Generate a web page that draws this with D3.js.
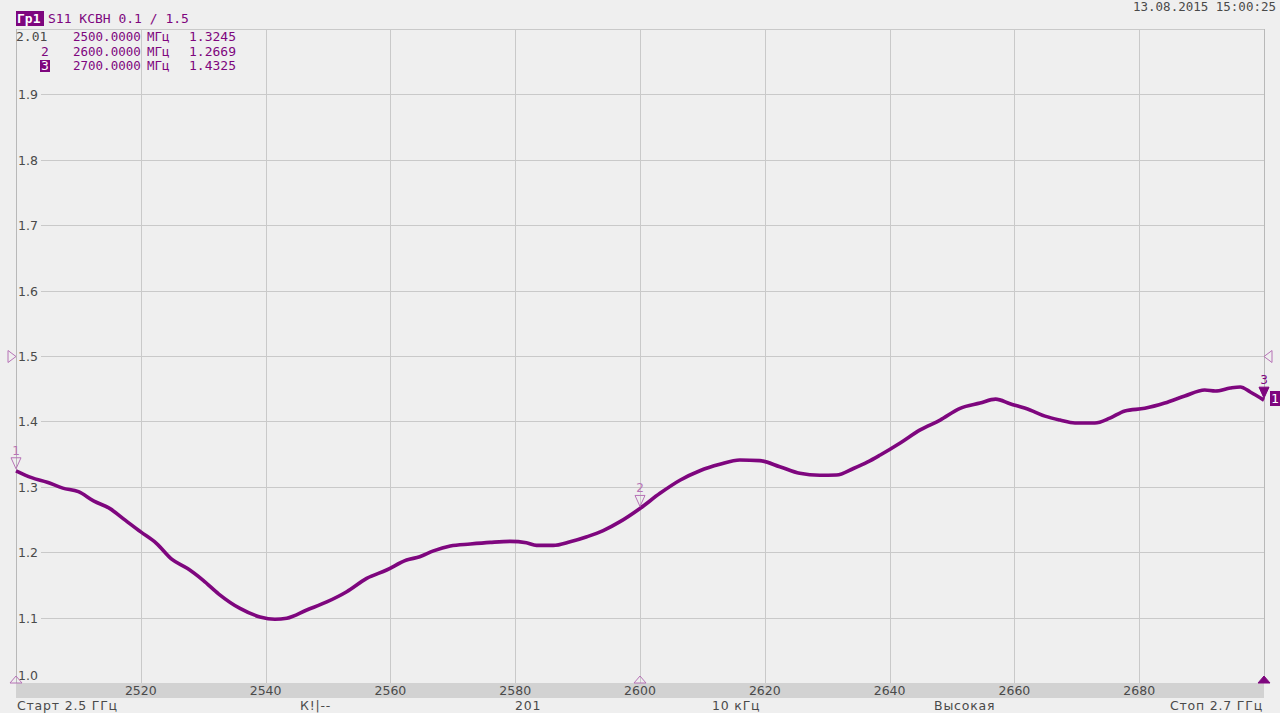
<!DOCTYPE html>
<html><head><meta charset="utf-8">
<script src="https://cdn.jsdelivr.net/npm/d3@7"></script>
<style>html,body{margin:0;padding:0;background:#efefef;}svg{display:block;}</style>
</head><body>
<svg id="c" width="1280" height="713"></svg>
<script>
// ---- data ----
const freqMHz = [2500,2502.5,2505,2507.5,2510,2512.5,2515,2517.5,2520,2522.5,2525,2527.5,2530,2532.5,2535.9,2539.1,2541.5,2543.4,2546.6,2549.8,2553,2556.2,2559.4,2562.6,2564.7,2566.9,2569.6,2572.8,2576,2579.2,2581.8,2583.4,2586.1,2588.8,2591.5,2594.1,2596.8,2600,2603.2,2606.4,2609.6,2612.8,2616,2619.2,2622.4,2625.6,2628.8,2631.5,2634.2,2636.5,2638.5,2641.7,2644.9,2648.1,2651.3,2654.5,2657,2659.3,2662.5,2664.9,2667.3,2669.7,2672.9,2675.3,2677.7,2680.9,2684.1,2687.3,2690.5,2692.2,2694.6,2696.2,2697.8,2700];
const vswr = [1.3245,1.314,1.307,1.298,1.2925,1.278,1.267,1.249,1.231,1.2136,1.189,1.175,1.157,1.136,1.114,1.101,1.0974,1.099,1.1116,1.124,1.1396,1.160,1.1728,1.188,1.193,1.202,1.2095,1.2125,1.215,1.2166,1.2145,1.2105,1.2105,1.216,1.2237,1.233,1.2467,1.2669,1.290,1.310,1.3246,1.3344,1.341,1.340,1.3307,1.3206,1.3176,1.318,1.328,1.338,1.3486,1.367,1.387,1.402,1.420,1.428,1.434,1.427,1.4174,1.408,1.402,1.3976,1.3976,1.405,1.416,1.420,1.428,1.4388,1.448,1.4465,1.451,1.4526,1.445,1.4325];
const xTicks = [2520,2540,2560,2580,2600,2620,2640,2660,2680];
const yTicks = [1.1,1.2,1.3,1.4,1.5,1.6,1.7,1.8,1.9];
const markerIds = ["1","2","3"];
const markerFreq = [2500,2600,2700];
const markerVal = [1.3245,1.2669,1.4325];
const markerFreqText = ["2500.0000","2600.0000","2700.0000"];
const markerValText = ["1.3245","1.2669","1.4325"];
const headerTitle = "S11 КСВН 0.1 / 1.5";
const refLevel = 1.5;
const statusTexts = ["Старт 2.5 ГГц","К!|--","201","10 кГц","Высокая","Стоп 2.7 ГГц"];
const dateText = "13.08.2015 15:00:25";

// ---- layout ----
const svg = d3.select("#c");
const X0=16, X1=1264, YT=29, YB=683;
const x = d3.scaleLinear().domain([2500,2700]).range([X0,X1]);
const y = d3.scaleLinear().domain([1.0,2.0]).range([YB,YT]);
const purple="#7e067e", pale="#b673b6", gridC="#c9c9c9", txt="#4a4a4a";
const sans="DejaVu Sans, Verdana, sans-serif", mono="DejaVu Sans Mono, monospace";

svg.append("rect").attr("width",1280).attr("height",713).attr("fill","#efefef");

// grid
const g = svg.append("g");
g.selectAll("line.v").data(xTicks).join("line")
 .attr("x1",d=>Math.round(x(d))+0.5).attr("x2",d=>Math.round(x(d))+0.5)
 .attr("y1",YT).attr("y2",YB).attr("stroke",gridC).attr("stroke-width",1);
g.selectAll("line.h").data(yTicks.concat([2.0])).join("line")
 .attr("y1",d=>Math.round(y(d))+0.5).attr("y2",d=>Math.round(y(d))+0.5)
 .attr("x1",X0).attr("x2",X1).attr("stroke",gridC).attr("stroke-width",1);
g.append("line").attr("x1",X0+0.5).attr("x2",X0+0.5).attr("y1",YT).attr("y2",YB).attr("stroke","#b8b8b8");
g.append("line").attr("x1",X1+0.5).attr("x2",X1+0.5).attr("y1",YT).attr("y2",YB).attr("stroke","#b8b8b8");

// y labels with background
const yl = svg.append("g");
yTicks.forEach(t=>{
  const s = d3.format(".1f")(t);
  yl.append("rect").attr("x",X0+1).attr("y",Math.round(y(t))-7).attr("width",24).attr("height",14).attr("fill","#efefef");
  yl.append("text").attr("x",X0+2).attr("y",Math.round(y(t))+5).text(s)
   .attr("font-family",sans).attr("font-size",12.5).attr("fill",txt);
});
yl.append("text").attr("x",X0+2).attr("y",680).text("1.0").attr("font-family",sans).attr("font-size",12.5).attr("fill",txt);

// bottom axis bar
svg.append("rect").attr("x",X0).attr("y",YB).attr("width",X1-X0).attr("height",15).attr("fill","#d2d2d2");
svg.append("g").selectAll("text").data(xTicks).join("text")
 .attr("x",d=>x(d)).attr("y",695).attr("text-anchor","middle").text(d=>d)
 .attr("font-family",sans).attr("font-size",12.5).attr("fill",txt);

// trace
const line = d3.line().x((d,i)=>x(freqMHz[i])).y(d=>y(d)).curve(d3.curveMonotoneX);
svg.append("path").attr("d",line(vswr)).attr("fill","none").attr("stroke",purple).attr("stroke-width",3.6).attr("stroke-linejoin","round");

// reference level triangles
const ry = Math.round(y(refLevel))+0.5;
svg.append("path").attr("d",`M${X0-8},${ry-6}L${X0},${ry}L${X0-8},${ry+6}Z`).attr("fill","none").attr("stroke",pale);
svg.append("path").attr("d",`M${X1+8},${ry-6}L${X1},${ry}L${X1+8},${ry+6}Z`).attr("fill","none").attr("stroke",pale);

// markers on trace
markerIds.forEach((id,i)=>{
  const mx = x(markerFreq[i]), my = y(markerVal[i]);
  const active = i===2;
  const tp = `M${mx-5},${my-13}L${mx+5},${my-13}L${mx},${my-2}Z`;
  svg.append("path").attr("d",tp).attr("fill",active?purple:"none").attr("stroke",active?purple:pale).attr("stroke-width",1);
  svg.append("text").attr("x",mx).attr("y",my-16).attr("text-anchor","middle").text(id)
   .attr("font-family",sans).attr("font-size",12).attr("fill",active?purple:pale);
  const bp = `M${mx-6},${YB}L${mx+6},${YB}L${mx},${YB-7}Z`;
  svg.append("path").attr("d",bp).attr("fill",active?purple:"none").attr("stroke",active?purple:pale).attr("stroke-width",1);
});

// right trace indicator box
svg.append("rect").attr("x",1270).attr("y",391).attr("width",10).attr("height",15).attr("fill",purple);
svg.append("text").attr("x",1275).attr("y",403).attr("text-anchor","middle").text("1").attr("font-family",mono).attr("font-size",13).attr("fill","#fff");

// header
svg.append("rect").attr("x",16).attr("y",11).attr("width",28).attr("height",15).attr("fill",purple);
svg.append("text").attr("x",17).attr("y",23).text("Гр1").attr("font-family",mono).attr("font-size",13).attr("font-weight","bold").attr("fill","#fff");
svg.append("text").attr("x",48).attr("y",23).text(headerTitle).attr("font-family",mono).attr("font-size",13).attr("fill",purple);
svg.append("text").attr("x",1276).attr("y",11).attr("text-anchor","end").text(dateText).attr("font-family",mono).attr("font-size",12.5).attr("fill",txt);

// marker table
svg.append("text").attr("x",16).attr("y",41).text("2.01").attr("font-family",mono).attr("font-size",13).attr("fill",txt);
markerIds.forEach((id,i)=>{
  const ty = 41 + i*14.5;
  if(i===2){
    svg.append("rect").attr("x",40).attr("y",ty-10).attr("width",10).attr("height",12).attr("fill",purple);
    svg.append("text").attr("x",45).attr("y",ty).attr("text-anchor","middle").text(id).attr("font-family",mono).attr("font-size",13).attr("fill","#fff");
  } else if(i===1){
    svg.append("text").attr("x",45).attr("y",ty).attr("text-anchor","middle").text(id).attr("font-family",mono).attr("font-size",13).attr("fill",purple);
  }
  svg.append("text").attr("x",73).attr("y",ty).text(markerFreqText[i]).attr("font-family",mono).attr("font-size",12.5).attr("fill",purple);
  svg.append("text").attr("x",147).attr("y",ty).text("МГц").attr("font-family",mono).attr("font-size",12.5).attr("fill",purple);
  svg.append("text").attr("x",189).attr("y",ty).text(markerValText[i]).attr("font-family",mono).attr("font-size",13).attr("fill",purple);
});

// status bar
const statusX = [17,300,515,712,934,1263];
statusTexts.forEach((s,i)=>{
  svg.append("text").attr("x",statusX[i]).attr("y",710).attr("text-anchor",i===5?"end":"start").text(s)
   .attr("font-family",sans).attr("font-size",12.5).attr("letter-spacing",0.8).attr("fill",txt);
});
</script>
</body></html>
